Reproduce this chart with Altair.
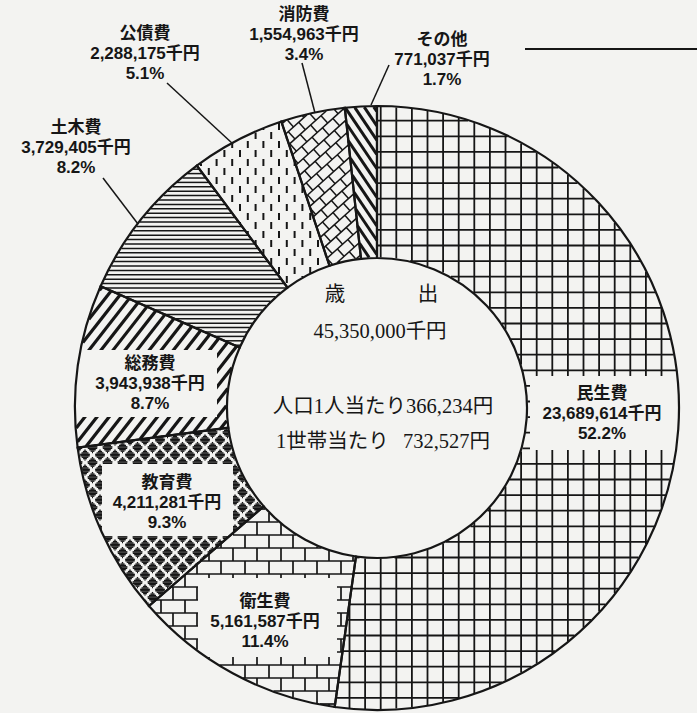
import numpy as np
import pandas as pd
import altair as alt

# ---------------- data ----------------
categories = ["民生費", "衛生費", "教育費", "総務費", "土木費", "公債費", "消防費", "その他"]
amounts = [23689614, 5161587, 4211281, 3943938, 3729405, 2288175, 1554963, 771037]
percents = ["52.2%", "11.4%", "9.3%", "8.7%", "8.2%", "5.1%", "3.4%", "1.7%"]

center_title = ["歳", "出"]
center_total = "45,350,000千円"
center_person = "人口1人当たり366,234円"
center_household = "1世帯当たり\u2002\u2009732,527円"

# ---------------- layout ----------------
W, H = 697, 713
CX, CY = 377, 408
R_OUT, R_IN = 302, 150
INK = "#161616"
PAPER = "#f3f3f1"

label_x = [602, 265, 167, 150, 76, 145, 304, 442]
label_y = [394, 602, 483, 364, 128, 34, 15, 40]
line_gap = 20

# white boxes behind inner labels: category -> (x1, x2, y1, y2)
box_cat = ["民生費", "衛生費", "教育費", "総務費"]
box_x1 = [530, 198, 102, 74]
box_x2 = [684, 337, 233, 217]
box_y1 = [376, 578, 464, 350]
box_y2 = [450, 657, 536, 417]

# leader lines (x1, y1, x2, y2)
lead_x1 = [167, 103, 302, 389, 525]
lead_y1 = [83, 178, 63, 65, 49]
lead_x2 = [233, 138, 315, 371, 697]
lead_y2 = [144, 224, 113, 105, 49]
lead_w = [1.5, 1.5, 1.5, 1.5, 2.2]

# ---------------- wedge geometry (from data) ----------------
total = float(sum(amounts))
cum = np.cumsum(amounts) / total * 360.0
start = cum - np.array(amounts) / total * 360.0
wedges = list(zip(start, cum))


def inside(px, py, a0, a1):
    dx = px - CX
    dy = py - CY
    r = np.hypot(dx, dy)
    ang = (np.degrees(np.arctan2(dx, -dy)) + 360.0) % 360.0
    return (r >= R_IN + 0.5) & (r <= R_OUT - 0.5) & (ang >= a0) & (ang < a1)


def clip_seg(x1, y1, x2, y2, a0, a1, step=0.5):
    L = np.hypot(x2 - x1, y2 - y1)
    n = max(2, int(L / step) + 1)
    t = np.linspace(0, 1, n)
    px = x1 + (x2 - x1) * t
    py = y1 + (y2 - y1) * t
    m = inside(px, py, a0, a1)
    out = []
    if not m.any():
        return out
    d = np.diff(np.concatenate([[0], m.astype(int), [0]]))
    s_idx = np.where(d == 1)[0]
    e_idx = np.where(d == -1)[0] - 1
    for s, e in zip(s_idx, e_idx):
        if e > s:
            out.append((px[s], py[s], px[e], py[e]))
    return out


def near(px, py):
    r = np.hypot(px - CX, py - CY)
    return (R_IN - 25) <= r <= (R_OUT + 25)


def family(theta, spacing, through, width, wedge, ext=330):
    a0, a1 = wedge
    th = np.radians(theta)
    d = np.array([np.cos(th), np.sin(th)])
    n = np.array([-np.sin(th), np.cos(th)])
    c0 = np.array([CX, CY], dtype=float)
    phase = float(np.dot(np.array(through, dtype=float) - c0, n)) % spacing
    segs = []
    kmax = int(ext / spacing) + 2
    for k in range(-kmax, kmax + 1):
        c = c0 + n * (k * spacing + phase)
        p1 = c - d * ext
        p2 = c + d * ext
        for s in clip_seg(p1[0], p1[1], p2[0], p2[1], a0, a1):
            segs.append(s + (width,))
    return segs


def bricks(theta, row_h, brick_w, through, width, wedge, ext=330):
    a0, a1 = wedge
    segs = family(theta, row_h, through, width, wedge, ext)
    th = np.radians(theta)
    d = np.array([np.cos(th), np.sin(th)])
    n = np.array([-np.sin(th), np.cos(th)])
    c0 = np.array([CX, CY], dtype=float)
    phase = float(np.dot(np.array(through, dtype=float) - c0, n)) % row_h
    kmax = int(ext / row_h) + 2
    jmax = int(ext / brick_w) + 2
    for k in range(-kmax, kmax + 1):
        for j in range(-jmax, jmax + 1):
            base = c0 + n * (k * row_h + phase) + d * (j * brick_w + (k % 2) * brick_w / 2)
            tip = base + n * row_h
            mid = (base + tip) / 2
            if not near(mid[0], mid[1]):
                continue
            for s in clip_seg(base[0], base[1], tip[0], tip[1], a0, a1):
                segs.append(s + (width,))
    return segs


def dashes(col_w, period, dash_len, origin, width, wedge):
    a0, a1 = wedge
    segs = []
    ox, oy = origin
    for j in range(-45, 46):
        x = ox + j * col_w
        for k in range(-25, 26):
            y = oy + k * period + (j % 2) * period / 2
            if not near(x, y):
                continue
            for s in clip_seg(x, y, x, y + dash_len, a0, a1):
                segs.append(s + (width,))
    return segs


def diamonds(dx, dy, dw, dh, origin, wedge):
    a0, a1 = wedge
    segs = []
    ox, oy = origin
    offs = np.arange(-dh / 2 + 0.7, dh / 2, 1.4)
    for j in range(-50, 51):
        yc = oy + j * dy
        for i in range(-25, 26):
            xc = ox + i * dx + (j % 2) * dx / 2
            if not near(xc, yc):
                continue
            for o in offs:
                hw = (dw / 2) * (1 - abs(o) / (dh / 2))
                if hw < 0.4:
                    continue
                for s in clip_seg(xc - hw, yc + o, xc + hw, yc + o, a0, a1, step=0.5):
                    segs.append(s + (1.5,))
    return segs


segs = []
# 民生費: square grid
segs += family(90, 15.6, (536.7, 276.7), 1.8, wedges[0])
segs += family(0, 15.6, (536.7, 276.7), 1.8, wedges[0])
# 衛生費: horizontal bricks
segs += bricks(0, 13.0, 24.0, (300, 600), 1.7, wedges[1])
# 教育費: diamond checker
segs += diamonds(15.0, 7.5, 11.0, 11.0, (160, 470), wedges[2])
# 総務費: thick "/" hatch
segs += family(-52, 9.5, (150, 380), 3.2, wedges[3])
# 土木費: fine horizontal lines
segs += family(0, 4.4, (150, 200), 1.5, wedges[4])
# 公債費: staggered short dashes
segs += dashes(7.8, 18.0, 7.0, (240, 150), 2.0, wedges[5])
# 消防費: diagonal bricks
segs += bricks(-42, 10.0, 14.0, (320, 130), 1.5, wedges[6])
# その他: thick "\" hatch
segs += family(56, 8.0, (370, 130), 3.0, wedges[7])

pat = pd.DataFrame(segs, columns=["x", "y", "x2", "y2", "w"])

slices = pd.DataFrame({"cat": categories, "amount": amounts, "idx": list(range(len(categories)))})

lab_rows = []
for c, a, p, lx, ly in zip(categories, amounts, percents, label_x, label_y):
    for i, t in enumerate([c, f"{a:,}千円", p]):
        lab_rows.append({"t": t, "x": lx, "y": ly + i * line_gap})
labels = pd.DataFrame(lab_rows)

boxes = pd.DataFrame({"cat": box_cat, "x": box_x1, "x2": box_x2, "y": box_y1, "y2": box_y2})
leaders = pd.DataFrame({"x": lead_x1, "y": lead_y1, "x2": lead_x2, "y2": lead_y2, "w": lead_w})

center_rows = [
    {"t": center_title[0], "x": 335, "y": 295},
    {"t": center_title[1], "x": 428, "y": 295},
    {"t": center_total, "x": 380, "y": 332},
    {"t": center_person, "x": 383, "y": 407},
    {"t": center_household, "x": 383, "y": 442},
]
centers = pd.DataFrame(center_rows)

# ---------------- chart ----------------
X = lambda f: alt.X(f, scale=None, axis=None)
Y = lambda f: alt.Y(f, scale=None, axis=None)

pattern_layer = alt.Chart(pat).mark_rule(color=INK, strokeCap="butt").encode(
    x=X("x:Q"), y=Y("y:Q"), x2="x2:Q", y2="y2:Q",
    strokeWidth=alt.StrokeWidth("w:Q", scale=None, legend=None),
)

box_layer = alt.Chart(boxes).mark_rect(color=PAPER).encode(
    x=X("x:Q"), x2="x2:Q", y=Y("y:Q"), y2="y2:Q"
)

arc_layer = alt.Chart(slices).mark_arc(
    innerRadius=R_IN, outerRadius=R_OUT, fillOpacity=0, stroke=INK, strokeWidth=2.2
).encode(
    theta=alt.Theta("amount:Q", stack=True,
                    scale=alt.Scale(domain=[0, total], range=[0, 2 * np.pi], nice=False)),
    order=alt.Order("idx:Q"),
    x=alt.value(CX),
    y=alt.value(CY),
)

leader_layer = alt.Chart(leaders).mark_rule(color=INK).encode(
    x=X("x:Q"), y=Y("y:Q"), x2="x2:Q", y2="y2:Q",
    strokeWidth=alt.StrokeWidth("w:Q", scale=None, legend=None),
)

label_layer = alt.Chart(labels).mark_text(
    font="Liberation Sans Narrow, Liberation Sans, Noto Sans CJK JP", fontSize=17,
    fontWeight="bold", color=INK, align="center", baseline="middle",
).encode(x=X("x:Q"), y=Y("y:Q"), text="t:N")

center_layer = alt.Chart(centers).mark_text(
    font="Liberation Serif, Noto Sans CJK JP", fontSize=20.5, color=INK,
    align="center", baseline="middle",
).encode(x=X("x:Q"), y=Y("y:Q"), text="t:N")

chart = alt.layer(
    pattern_layer, box_layer, arc_layer, leader_layer, label_layer, center_layer
).properties(
    width=W, height=H, padding=0, background=PAPER,
    autosize=alt.AutoSizeParams(type="none"),
).configure_view(strokeWidth=0)

chart.save("out.html", embed_options={"renderer": "svg", "actions": False})
